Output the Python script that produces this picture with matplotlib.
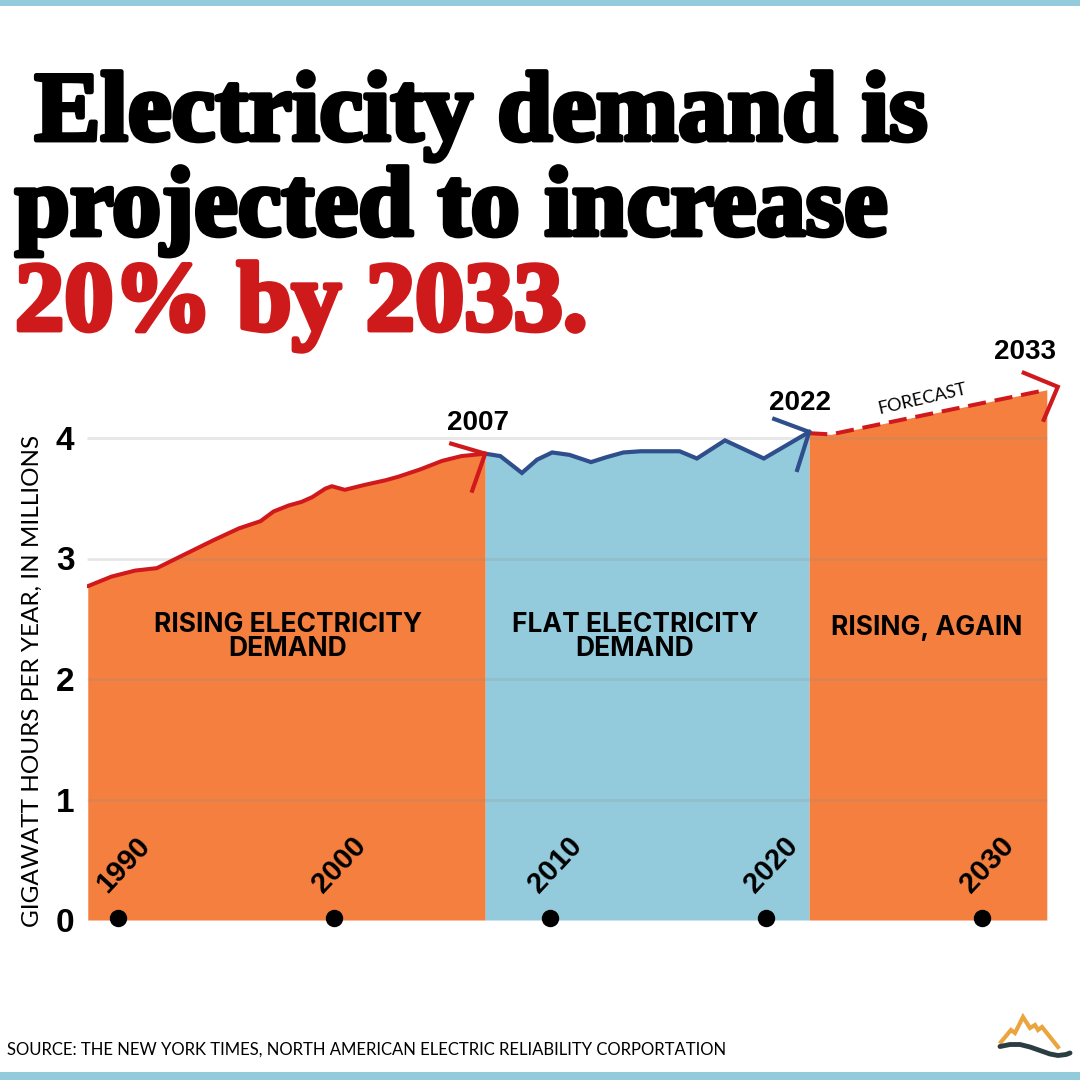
import matplotlib
matplotlib.use("Agg")
import matplotlib.pyplot as plt
import matplotlib.patheffects as pe
from matplotlib.lines import Line2D
from matplotlib.patches import Rectangle

# US electricity demand, millions of GWh per year
rise_years = [1988.6, 1989.7, 1990.8, 1991.8, 1992.7, 1994.4, 1995.6, 1996.6, 1997.2, 1997.9,
              1998.5, 1999.0, 1999.6, 1999.9, 2000.5, 2001.4, 2002.4, 2003.0, 2004.0, 2005.0,
              2005.9, 2007.0]
rise_vals = [2.77, 2.85, 2.90, 2.92, 3.00, 3.15, 3.25, 3.31, 3.39, 3.44,
             3.47, 3.51, 3.58, 3.60, 3.57, 3.61, 3.65, 3.68, 3.74, 3.81,
             3.85, 3.87]
flat_years = [2007.0, 2007.7, 2008.7, 2009.4, 2010.1, 2010.9, 2011.9, 2012.6, 2013.4, 2014.2,
              2015.3, 2016.0, 2016.8, 2018.1, 2019.9, 2022.0]
flat_vals = [3.87, 3.85, 3.71, 3.82, 3.88, 3.86, 3.80, 3.84, 3.88, 3.89,
             3.89, 3.89, 3.83, 3.98, 3.83, 4.05]
forecast_years = [2022.0, 2023.0, 2033.0]
forecast_vals = [4.04, 4.03, 4.40]

dot_years = [1990, 2000, 2010, 2020, 2030]
y_ticks = [0, 1, 2, 3, 4]
marker_years = ["2007", "2022", "2033"]
region_labels = ["RISING ELECTRICITY\nDEMAND", "FLAT ELECTRICITY\nDEMAND", "RISING, AGAIN"]

ORANGE = "#f47f3e"
BLUE = "#93cbdd"
RED = "#d0191c"
NAVY = "#2f4e8c"
TITLE_RED = "#cf1a1c"

W = 1080


def fx(px):
    return px / W


def fy(py):
    return 1 - py / W


fig = plt.figure(figsize=(10.8, 10.8), dpi=100)
fig.patch.set_facecolor("white")

# axes placed so that 1990 sits at x=118px, 21.6 px per year; y=0 at 920px, 120.5 px per unit
xlim = (1988.56, 2033.6)
ylim = (0, 4.65)
left_px = 118 + (xlim[0] - 1990) * 21.6
right_px = 118 + (xlim[1] - 1990) * 21.6
top_px = 920 - ylim[1] * 120.5
ax = fig.add_axes([fx(left_px), fy(920), (right_px - left_px) / W, (920 - top_px) / W])
ax.set_xlim(*xlim)
ax.set_ylim(*ylim)
ax.patch.set_alpha(0)
for s in ax.spines.values():
    s.set_visible(False)

ax.fill_between(rise_years, rise_vals, 0, color=ORANGE, lw=0, zorder=1)
ax.fill_between(flat_years, flat_vals, 0, color=BLUE, lw=0, zorder=1)
ax.fill_between(forecast_years, forecast_vals, 0, color=ORANGE, lw=0, zorder=1)

ax.hlines(y_ticks[1:], xlim[0], forecast_years[-1], colors="#8f8f8f", alpha=0.22, lw=2, zorder=2)

ax.plot(rise_years, rise_vals, color=RED, lw=2.9, zorder=4, solid_capstyle="round")
ax.plot(flat_years, flat_vals, color=NAVY, lw=3.0, zorder=4, solid_joinstyle="miter")
ax.plot(forecast_years, forecast_vals, color=RED, lw=2.9, zorder=4, dashes=(4.5, 2.2))


def chevron(x, y, arms, color, tip=(0, 0)):
    tx, ty = ax.transData.transform((x, y))
    tx += tip[0]
    ty += tip[1]
    pts = [(tx + arms[0][0], ty + arms[0][1]), (tx, ty), (tx + arms[1][0], ty + arms[1][1])]
    pts = fig.transFigure.inverted().transform(pts)
    fig.add_artist(Line2D(pts[:, 0], pts[:, 1], transform=fig.transFigure, color=color,
                          lw=3.0, solid_joinstyle="miter", zorder=6))


chevron(rise_years[-1], rise_vals[-1], [(-34, 10), (-13, -37)], RED)
chevron(flat_years[-1], flat_vals[-1], [(-35, 13), (-12, -38)], NAVY)
chevron(forecast_years[-1], forecast_vals[-1], [(-34, 14), (-14, -33)], RED, tip=(11, 3))

# year markers along the bottom
ax.scatter(dot_years, [0.02] * len(dot_years), s=(16 * 0.72) ** 2, color="black", zorder=5, clip_on=False)
for yr in dot_years:
    ax.annotate(str(yr), (yr, 0), xytext=(4, 40), textcoords="offset points", rotation=47,
                ha="center", va="center", fontsize=21, fontweight="bold",
                family="Liberation Sans", zorder=6)

ax.set_xticks([])
ax.set_yticks(y_ticks)
ax.tick_params(axis="y", length=0, pad=9, labelsize=24)
for lab in ax.get_yticklabels():
    lab.set_fontweight("bold")
    lab.set_family("Liberation Sans")

# turning-point labels
bold_num = dict(fontsize=20, fontweight="bold", family="Liberation Sans", ha="center", va="center")
fig.text(fx(478), fy(423), marker_years[0], **bold_num)
fig.text(fx(800), fy(403), marker_years[1], **bold_num)
fig.text(fx(1025), fy(352), marker_years[2], **bold_num)
fig.text(fx(922), fy(399), "FORECAST", rotation=13, fontsize=13, family="Lato",
         ha="center", va="center")

region_style = dict(fontsize=19, fontweight="bold", family="Inter", ha="center", va="center",
                    linespacing=0.95)
fig.text(fx(288), fy(637), region_labels[0], **region_style)
fig.text(fx(635), fy(637), region_labels[1], **region_style)
fig.text(fx(927), fy(628), region_labels[2], **region_style)

fig.text(fx(32), fy(681), "GIGAWATT HOURS PER YEAR, IN MILLIONS", rotation=90, fontsize=17.5,
         family="Lato", ha="center", va="center")

# headline
thick = [pe.withStroke(linewidth=3.5, foreground="black")]
title_style = dict(fontsize=71, fontweight="bold", family="Liberation Serif", ha="left", va="baseline")
fig.text(fx(10), fy(140), " Electricity demand is", path_effects=thick, **title_style)
fig.text(fx(15), fy(235), "projected to increase", path_effects=thick, **title_style)
fig.text(fx(15), fy(330), "20% by 2033.", color=TITLE_RED,
         path_effects=[pe.withStroke(linewidth=3.5, foreground=TITLE_RED)], **title_style)

fig.text(fx(7), fy(1050), "SOURCE: THE NEW YORK TIMES, NORTH AMERICAN ELECTRIC RELIABILITY CORPORTATION",
         fontsize=12, family="Lato", ha="left", va="center")

# top and bottom bands
fig.add_artist(Rectangle((0, fy(6)), 1, 6 / W, transform=fig.transFigure, color=BLUE, lw=0))
fig.add_artist(Rectangle((0, 0), 1, 8 / W, transform=fig.transFigure, color=BLUE, lw=0))

# small mountain logo
mx = [1001, 1011, 1015, 1023, 1030, 1035, 1038, 1042, 1058]
my = [1042, 1030, 1033, 1017, 1028, 1025, 1030, 1027, 1047]
fig.add_artist(Line2D([fx(v) for v in mx], [fy(v) for v in my], transform=fig.transFigure,
                      color="#eba53f", lw=3, solid_joinstyle="miter"))
wx = [1000, 1010, 1020, 1030, 1040, 1050, 1058, 1066, 1070]
wy = [1046.5, 1044.5, 1044.5, 1047, 1050.5, 1054, 1055.5, 1054.5, 1053]
fig.add_artist(Line2D([fx(v) for v in wx], [fy(v) for v in wy], transform=fig.transFigure,
                      color="#2c3d42", lw=3.5, solid_capstyle="round"))

fig.savefig("out.png", dpi=100, facecolor="white")
